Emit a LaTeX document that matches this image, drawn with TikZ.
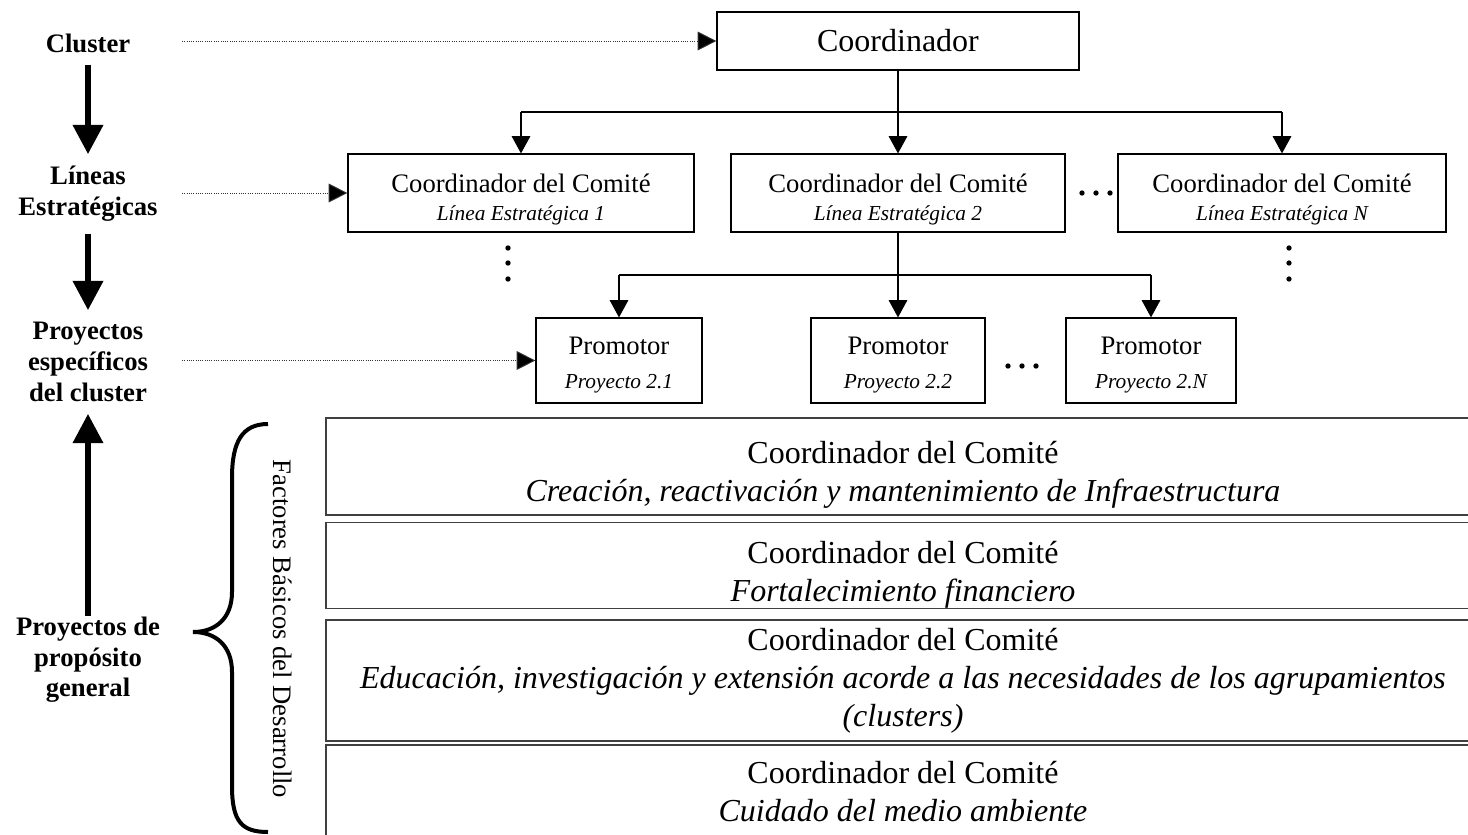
\documentclass[tikz,border=0pt]{standalone}
\usepackage{fontspec}
\setmainfont{Liberation Serif}
\usetikzlibrary{arrows.meta}
\begin{document}
\begin{tikzpicture}[x=0.75pt,y=-0.75pt,
  box/.style={draw, line width=0.9pt, inner sep=0pt, align=center},
  fbox/.style={draw=black!75, line width=1pt, inner sep=0pt, align=center,
    minimum width=1154*0.75pt, font=\fontsize{24}{28.5}\selectfont},
  conn/.style={line width=0.8pt, -{Triangle[length=13pt,width=14pt]}},
  busline/.style={line width=0.8pt},
  guide/.style={line width=0.7pt, densely dotted, draw=black!80,
    -{Triangle[length=14pt,width=14pt,fill=black]}},
  bigarrow/.style={line width=4.5pt, -{Triangle[length=22pt,width=22pt]}},
  level/.style={font=\fontsize{20}{23}\selectfont\bfseries, align=center, inner sep=9pt},
  dot/.style={circle, fill, inner sep=0pt, minimum size=4pt},
]
\useasboundingbox (0,0) rectangle (1468,835);

% left column: levels of the organisation
\node[level] (cl) at (88,43) {Cluster};
\node[level] (le) at (88,194) {Líneas\\Estratégicas};
\node[level] (pe) at (88,362) {Proyectos\\específicos\\del cluster};
\node[level] (pg) at (88,660) {Proyectos de\\propósito\\general};

\draw[bigarrow] (cl) -- (le);
\draw[bigarrow] (le) -- (pe);
\draw[bigarrow, shorten <=-8pt] (pg) -- (pe);

% top coordinator
\node[box, minimum width=362*0.75pt, minimum height=58*0.75pt,
  font=\fontsize{24}{28}\selectfont] (coord) at (898,41) {Coordinador};

% committees of the strategic lines
\begin{scope}[every node/.append style={font=\fontsize{20}{21}\selectfont, text height=44pt}]
\node[box, minimum width=346*0.75pt, minimum height=78*0.75pt] (l1) at (521,193)
  {Coordinador del Comité\\{\fontsize{16}{21}\selectfont\itshape Línea Estratégica 1}};
\node[box, minimum width=334*0.75pt, minimum height=78*0.75pt] (l2) at (898,193)
  {Coordinador del Comité\\{\fontsize{16}{21}\selectfont\itshape Línea Estratégica 2}};
\node[box, minimum width=328*0.75pt, minimum height=78*0.75pt] (lN) at (1282,193)
  {Coordinador del Comité\\{\fontsize{16}{21}\selectfont\itshape Línea Estratégica N}};
\end{scope}

% promoters of the specific projects
\begin{scope}[every node/.append style={font=\fontsize{20}{25.5}\selectfont, text height=45pt}]
\node[box, minimum width=166*0.75pt, minimum height=85*0.75pt] (p1) at (619,360.5)
  {Promotor\\{\fontsize{16}{21}\selectfont\itshape Proyecto 2.1}};
\node[box, minimum width=174*0.75pt, minimum height=85*0.75pt] (p2) at (898,360.5)
  {Promotor\\{\fontsize{16}{21}\selectfont\itshape Proyecto 2.2}};
\node[box, minimum width=170*0.75pt, minimum height=85*0.75pt] (pN) at (1151,360.5)
  {Promotor\\{\fontsize{16}{21}\selectfont\itshape Proyecto 2.N}};
\end{scope}

% tree connectors
\coordinate (bus1) at (0,112);
\coordinate (bus2) at (0,275);
\draw[conn] (coord) -- (l2);
\draw[busline] (bus1 -| l1) -- (bus1 -| lN);
\draw[conn] (bus1 -| l1) -- (l1);
\draw[conn] (bus1 -| lN) -- (lN);
\draw[conn] (l2) -- (p2);
\draw[busline] (bus2 -| p1) -- (bus2 -| pN);
\draw[conn] (bus2 -| p1) -- (p1);
\draw[conn] (bus2 -| pN) -- (pN);

% guides from the level names
\coordinate (g1) at (182,41);
\coordinate (g2) at (182,193);
\coordinate (g3) at (182,360.5);
\draw[guide] (g1) -- (coord);
\draw[guide] (g2) -- (l1);
\draw[guide] (g3) -- (p1);

% ellipses
\foreach \x in {1082,1096,1110} \node[dot] (hd\x) at (\x,193) {};
\foreach \x in {1008,1022,1036} \node[dot] (pd\x) at (\x,366) {};
\foreach \y in {248,263,279} {
  \node[dot] (va\y) at (508,\y) {};
  \node[dot] (vb\y) at (1289,\y) {};
}

% basic factors of development
\node[fbox, minimum height=97*0.75pt, text height=57pt] (f1) at (903,466.5)
  {Coordinador del Comité\\{\itshape Creación, reactivación y mantenimiento de Infraestructura}};
\node[fbox, minimum height=85*0.75pt, text height=59pt] (f2) at (903,565.5)
  {Coordinador del Comité\\{\itshape Fortalecimiento financiero}};
\node[fbox, minimum height=121*0.75pt] (f3) at (903,680.5)
  {Coordinador del Comité\\{\itshape Educación, investigación y extensión acorde a las necesidades de los agrupamientos}\\{\itshape (clusters)}};
\node[fbox, minimum height=93*0.75pt] (f4) at (903,791.5)
  {Coordinador del Comité\\{\itshape Cuidado del medio ambiente}};

% brace grouping the factors
\draw[line width=3pt] (268,424) .. controls (242,424) and (232,442) .. (232,478)
  -- (232,592) .. controls (232,618) and (216,632) .. (193,632)
  .. controls (216,632) and (232,646) .. (232,672)
  -- (232,786) .. controls (232,822) and (242,832) .. (268,832);
\node[rotate=-90, font=\fontsize{20}{22}\selectfont] (fbd) at (283,629)
  {Factores Básicos del Desarrollo};
\end{tikzpicture}
\end{document}
